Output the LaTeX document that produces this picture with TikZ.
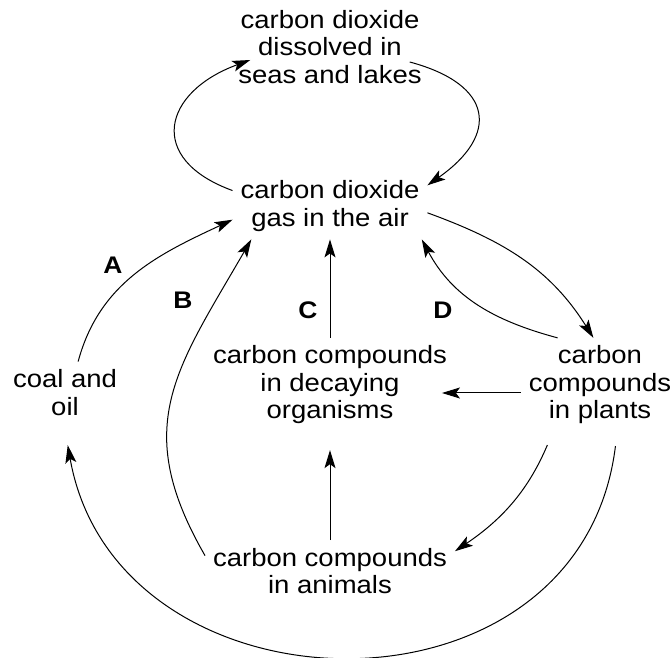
\documentclass[tikz,border=0pt]{standalone}
\usepackage{fontspec}
\setmainfont{Liberation Sans}[FakeStretch=1.1]
\usetikzlibrary{arrows.meta}

\begin{document}
\begin{tikzpicture}[x=1pt,y=1pt,font=\fontsize{25}{27.5}\selectfont,
        box/.style={align=center,inner sep=3pt,outer sep=5pt},
        lbl/.style={font=\fontsize{24}{27}\selectfont\bfseries},
        arr/.style={-{Stealth[length=18pt,width=11pt,inset=4pt]},line width=1pt}]
        \useasboundingbox (0,0) rectangle (670,657);
        \draw (330,610) node[box] (sea) {carbon dioxide\\dissolved in\\seas and lakes};
        \draw (330,451) node[box] (air) {carbon dioxide\\gas in the air};
        \draw (65,264.5) node[box] (coal) {coal and\\oil};
        \draw (330,272) node[box] (decay) {carbon compounds\\in decaying\\organisms};
        \draw (600,272) node[box] (plants) {carbon\\compounds\\in plants};
        \draw (330,86) node[box] (animals) {carbon compounds\\in animals};
        \draw (113,392) node[lbl] (A) {A};
        \draw (183,357) node[lbl] (B) {B};
        \draw (308,347) node[lbl] (C) {C};
        \draw (443,347) node[lbl] (D) {D};
        \draw[arr] (air.171) to[out=160,in=200,looseness=1.8] ([shift={(20pt,-13pt)}]sea.west);
        \draw[arr] ([shift={(-20pt,-15pt)}]sea.east) to[out=-15,in=35,looseness=1.8] (air.12);
        \draw[arr] (coal.67) to[out=75,in=205] (air.188);
        \draw[arr] (animals.173) to[out=120,in=240,looseness=1.2] (air.203);
        \draw[arr] (decay) -- (air);
        \draw[arr] (plants.132) to[out=165,in=-62] (air.-20);
        \draw[arr] (air.-4) to[out=-20,in=122] (plants.98);
        \draw[arr] ([yshift=-8pt]plants.west) -- ([shift={(-13pt,-8pt)}]decay.east);
        \draw[arr,shorten <=14pt] (plants.225) to[out=247,in=34] (animals.9);
        \draw[arr,shorten >=18pt] (animals) -- (decay);
        \draw[arr,shorten <=14pt,shorten >=22pt] (plants.-70) to[out=-97,in=-80,looseness=1.4] (coal.-92);
\end{tikzpicture}
\end{document}
